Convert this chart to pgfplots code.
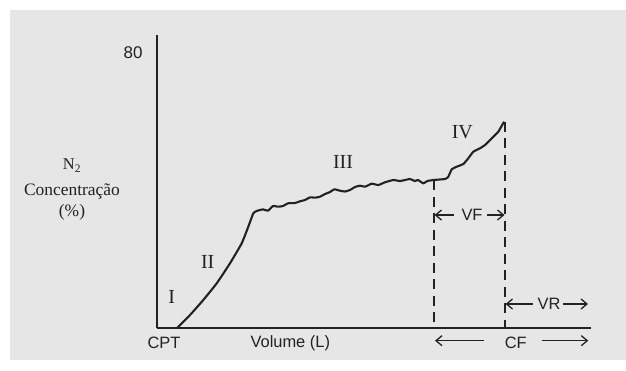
\documentclass[border=0pt]{standalone}
\usepackage{pgfplots}
\pgfplotsset{compat=1.18}
\usetikzlibrary{arrows.meta}
\usepackage{fontspec}
\setmainfont{Liberation Serif}
\setsansfont{Liberation Sans}
\definecolor{panel}{HTML}{E6E6E6}
\definecolor{ink}{HTML}{222222}
\begin{document}
\begin{tikzpicture}[x=1bp,y=1bp,
  ar/.style={line width=1.3bp, ink, -{Straight Barb[length=6bp,width=10bp]}},
  sl/.style={font=\sffamily\fontsize{16.5}{16.5}\selectfont, text=ink, inner sep=0pt},
  rl/.style={font=\fontsize{20}{20}\selectfont, text=ink, inner sep=0pt}]
\fill[white] (0,0) rectangle (626,370);
\fill[panel] (10,10) rectangle (626,360);
\begin{axis}[
  at={(157bp,42bp)}, anchor=south west,
  scale only axis, width=434bp, height=293bp,
  xmin=0, xmax=434, ymin=0, ymax=85.24,
  axis x line=bottom, axis y line=left,
  axis line style={-, line width=1.7bp, ink},
  xtick=\empty, ytick={80}, yticklabels={80},
  major tick length=0,
  yticklabel style={font=\sffamily\fontsize{17}{17}\selectfont, text=ink, xshift=-11bp},
  clip=false,
]
\addplot[ink, line width=2.1bp, line join=round, smooth, tension=0.3] coordinates {
(20,0) (33,3.78) (46.3,8.15) (59.7,13.0) (73,18.82) (84.7,24.64) (91.3,29.47)
(96.3,33.37) (99.7,34.04) (103,34.33) (106,34.53) (111,34.12) (116,35.49)
(121,35.29) (126,35.49) (131,36.28) (138,36.36) (143,36.86) (148,37.24)
(153,38.02) (158,37.91) (163,38.20) (168,38.98) (173,39.56) (177.3,40.35)
(183,39.94) (188,39.71) (193,40.15) (198,41.02) (203,41.40) (208,41.11)
(214.7,41.98) (221.3,41.60) (228,42.39) (236.3,43.05) (243,42.76) (248,43.05)
(253,43.35) (258,42.76) (261,43.05) (266.3,42.09) (270.3,42.76) (276.3,43.05)
(288,43.35) (291.3,44.0) (294.7,46.17) (299.7,46.92) (306.3,47.71) (311.3,49.37)
(316.3,51.29) (323,52.28) (328,53.24) (334.7,55.19) (341.3,57.11) (347,60.01)
};
\addplot[ink, line width=1.5bp, dash pattern=on 10bp off 6.5bp] coordinates {(277,43.05) (277,0)};
\addplot[ink, line width=1.5bp, dash pattern=on 10bp off 6.5bp] coordinates {(348,60.01) (348,0)};
% VF
\draw[ar] (axis cs:297,32.87) -- (axis cs:277.5,32.87);
\draw[ar] (axis cs:330,32.87) -- (axis cs:347.5,32.87);
\node[sl] at (axis cs:315,32.87) {VF};
% VR
\draw[ar] (axis cs:376,6.98) -- (axis cs:348.5,6.98);
\draw[ar] (axis cs:406,6.98) -- (axis cs:431,6.98);
\node[sl] at (axis cs:392,6.98) {VR};
% bottom
\draw[ar] (axis cs:327.3,-3.69) -- (axis cs:278,-3.69);
\draw[ar] (axis cs:384.7,-3.69) -- (axis cs:431.3,-3.69);
\node[sl] at (axis cs:358.7,-4.3) {CF};
\node[sl] at (axis cs:7,-4.3) {CPT};
\node[sl] at (axis cs:133.3,-4.3) {Volume (L)};
% phases
\node[rl] at (axis cs:14.7,9.1) {I};
\node[rl] at (axis cs:50.7,19.3) {II};
\node[rl] at (axis cs:186,48.3) {III};
\node[rl] at (axis cs:305.3,56.9) {IV};
% y label
\node[rl, font=\fontsize{16.5}{16.5}\selectfont] at (axis cs:-85,47.3) {N\textsubscript{2}};
\node[rl, font=\fontsize{17.5}{17.5}\selectfont] at (axis cs:-85,39.65) {Concentração};
\node[rl, font=\fontsize{17.5}{17.5}\selectfont] at (axis cs:-85,33.6) {(\%)};
\end{axis}
\end{tikzpicture}
\end{document}
